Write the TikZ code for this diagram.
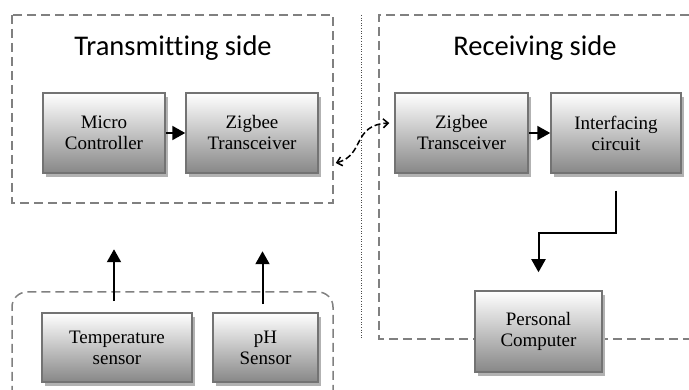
\documentclass[tikz,border=0pt]{standalone}
\usepackage{fontspec}
\setmainfont{Liberation Serif}
\newfontfamily\sidefont[Ligatures=NoCommon]{Carlito}
\usetikzlibrary{arrows.meta,shadows}

\tikzset{
  blk/.style={draw=black!55, line width=1.5pt, top color=white, bottom color=black!47,
    align=center, inner sep=0pt, font=\fontsize{19}{21}\selectfont,
    drop shadow={shadow xshift=3pt, shadow yshift=-4pt, fill=black!30, opacity=1}},
  grp/.style={draw=black!50, line width=1.5pt, dash pattern=on 9pt off 5pt},
  arr/.style={line width=2pt, -{Triangle[length=13pt,width=14pt]}},
}

\begin{document}
\begin{tikzpicture}[x=1pt,y=-1pt]
    \useasboundingbox (0,0) rectangle (689,390);

    % dashed groups
    \draw[grp] (12,15) rectangle (333,203);
    \draw[grp] (689,15) -- (379,15) -- (379,339) -- (689,339);
    \draw[grp, rounded corners=15pt] (12,395) -- (12,292) -- (333,292) -- (333,395);
    \draw[black!70, line width=0.6pt, dotted] (361,15) -- (361,339);

    \node[font=\sidefont\fontsize{28.5}{34}\selectfont] (txt) at (173,48) {Transmitting side};
    \node[font=\sidefont\fontsize{28.5}{34}\selectfont] (rxt) at (535,48) {Receiving side};

    % transmitter
    \node[blk, minimum width=122pt, minimum height=80pt] (mc) at (104,133) {Micro\\Controller};
    \node[blk, minimum width=132pt, minimum height=80pt] (ztx) at (252,133) {Zigbee\\Transceiver};
    \draw[arr] (mc.east) -- (ztx.west);

    % receiver
    \node[blk, minimum width=133pt, minimum height=80pt] (zrx) at (461.5,133) {Zigbee\\Transceiver};
    \node[blk, minimum width=130pt, minimum height=80pt] (ic) at (616,133) {Interfacing\\circuit};
    \node[blk, minimum width=127pt, minimum height=81pt] (pc) at (538.5,331.5) {Personal\\Computer};
    \draw[arr] (zrx.east) -- (ic.west);
    \draw[arr] ([yshift=-17pt]ic.south) -- ++(0,42) -| ([yshift=18pt]pc.north);

    % sensors
    \node[blk, minimum width=150pt, minimum height=69pt] (ts) at (117,347.5) {Temperature\\sensor};
    \node[blk, minimum width=105pt, minimum height=69pt] (ph) at (265.5,347.5) {pH\\Sensor};
    \draw[arr] ([xshift=-3pt,yshift=11pt]ts.north) -- ([xshift=-3pt,yshift=63pt]ts.north);
    \draw[arr] ([xshift=-3pt,yshift=8pt]ph.north) -- ([xshift=-3pt,yshift=61pt]ph.north);

    % wireless link
    \draw[line width=1.5pt, dash pattern=on 6pt off 3pt, {Straight Barb[length=5pt,width=9pt]}-{Straight Barb[length=5pt,width=9pt]}]
        ([xshift=17pt,yshift=-30pt]ztx.east) .. controls (365,155) and (352,125) .. ([xshift=-5pt,yshift=10pt]zrx.west);
\end{tikzpicture}
\end{document}
